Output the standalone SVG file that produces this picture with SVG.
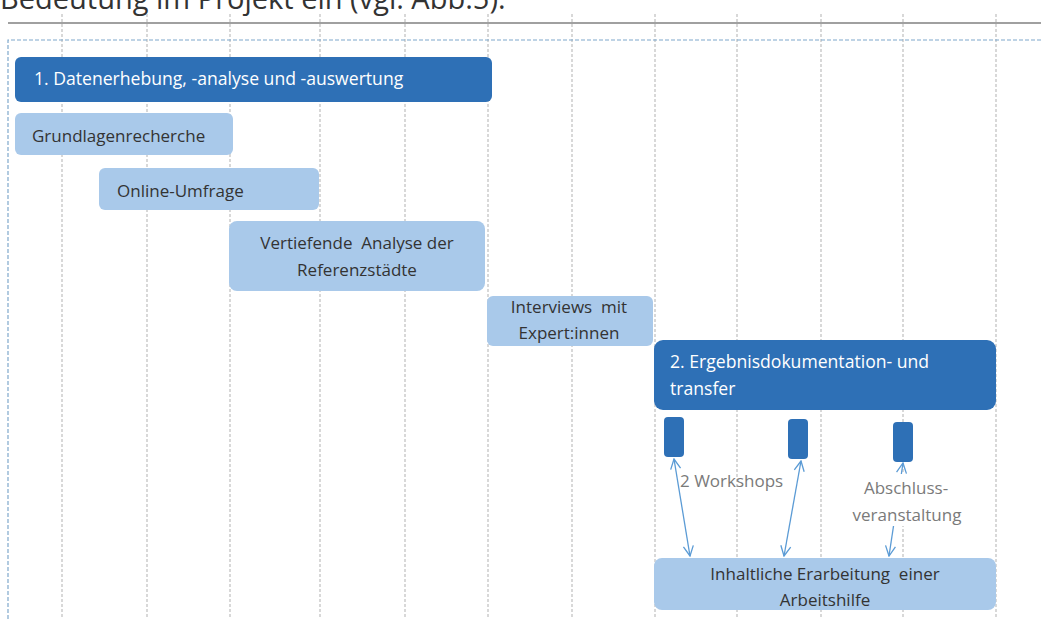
<svg xmlns="http://www.w3.org/2000/svg" width="1041" height="619" viewBox="0 0 1041 619">
<defs>
<style>
.grid{stroke:#c4c4c4;stroke-width:1.3;stroke-dasharray:3 2;fill:none}
.frame{stroke:#7fa8cc;stroke-width:1.2;stroke-dasharray:4 2;fill:none}
.dark{fill:#2e70b6}
.light{fill:#a9c9ea}
.tw{font-family:"Open Sans","Noto Sans",sans-serif;font-size:17.6px;fill:#ffffff}
.tb{font-family:"Open Sans","Noto Sans",sans-serif;font-size:17px;fill:#333333}
.tg{font-family:"Open Sans","Noto Sans",sans-serif;font-size:17px;fill:#7a7a7a}
.conn{stroke:#5b9bd5;stroke-width:1.3;fill:none}
</style>
<marker id="arr" viewBox="0 0 12 12" refX="11" refY="6" markerWidth="12" markerHeight="12" markerUnits="userSpaceOnUse" orient="auto-start-reverse">
<path d="M1,1 L11,6 L1,11" fill="none" stroke="#5b9bd5" stroke-width="1.3"/>
</marker>
</defs>
<rect width="1041" height="619" fill="#ffffff"/>
<text x="0" y="9" font-family="'Open Sans','Noto Sans',sans-serif" font-size="29" fill="#333333">Bedeutung im Projekt ein (vgl. Abb.5).</text>
<g id="grid">
<line x1="8" y1="23" x2="1041" y2="23" stroke="#a0a0a0" stroke-width="2"/>
<line class="grid" x1="62" y1="14" x2="62" y2="619"/>
<line class="grid" x1="147" y1="14" x2="147" y2="619"/>
<line class="grid" x1="230" y1="14" x2="230" y2="619"/>
<line class="grid" x1="320" y1="14" x2="320" y2="619"/>
<line class="grid" x1="405" y1="14" x2="405" y2="619"/>
<line class="grid" x1="488" y1="14" x2="488" y2="619"/>
<line class="grid" x1="572" y1="14" x2="572" y2="619"/>
<line class="grid" x1="655" y1="14" x2="655" y2="619"/>
<line class="grid" x1="737" y1="14" x2="737" y2="619"/>
<line class="grid" x1="821" y1="14" x2="821" y2="619"/>
<line class="grid" x1="903" y1="14" x2="903" y2="619"/>
<line class="grid" x1="996" y1="14" x2="996" y2="619"/>
<path class="frame" d="M8,619 L8,40 L1041,40"/>
</g>
<g id="phase1">
<rect class="dark" x="15" y="57" width="477" height="45" rx="6"/>
<text class="tw" x="34" y="85">1. Datenerhebung, -analyse und -auswertung</text>
</g>
<g id="grundlagen">
<rect class="light" x="15" y="113" width="218" height="42" rx="6"/>
<text class="tb" x="32" y="142">Grundlagenrecherche</text>
</g>
<g id="umfrage">
<rect class="light" x="99" y="168" width="220" height="42" rx="6"/>
<text class="tb" x="117" y="197">Online-Umfrage</text>
</g>
<g id="analyse">
<rect class="light" x="229" y="221" width="256" height="70" rx="8"/>
<text class="tb" x="357" y="249" text-anchor="middle" xml:space="preserve">Vertiefende  Analyse der</text>
<text class="tb" x="357" y="276" text-anchor="middle">Referenzstädte</text>
</g>
<g id="interviews">
<rect class="light" x="487" y="296" width="166" height="50" rx="6"/>
<text class="tb" x="569" y="313" text-anchor="middle" xml:space="preserve">Interviews  mit</text>
<text class="tb" x="569" y="339" text-anchor="middle">Expert:innen</text>
</g>
<g id="phase2">
<rect class="dark" x="654" y="340" width="342" height="70" rx="9"/>
<text class="tw" x="670" y="368">2. Ergebnisdokumentation- und</text>
<text class="tw" x="670" y="395">transfer</text>
</g>
<g id="ws1"><rect class="dark" x="664" y="417" width="20" height="40" rx="4"/></g>
<g id="ws2"><rect class="dark" x="788" y="419" width="20" height="40" rx="4"/></g>
<g id="abschluss"><rect class="dark" x="893" y="422" width="20" height="40" rx="4"/></g>
<g id="arbeitshilfe">
<rect class="light" x="654" y="558" width="342" height="52" rx="8"/>
<text class="tb" x="825" y="580" text-anchor="middle" xml:space="preserve">Inhaltliche Erarbeitung  einer</text>
<text class="tb" x="825" y="606" text-anchor="middle">Arbeitshilfe</text>
</g>
<g id="connectors">
<line class="conn" x1="674" y1="459" x2="690" y2="556" marker-start="url(#arr)" marker-end="url(#arr)"/>
<line class="conn" x1="801" y1="461" x2="784" y2="556" marker-start="url(#arr)" marker-end="url(#arr)"/>
<line class="conn" x1="903" y1="463" x2="889" y2="556" marker-start="url(#arr)" marker-end="url(#arr)"/>
</g>
<g id="labels">
<text class="tg" x="680" y="487">2 Workshops</text>
<rect x="855" y="474" width="102" height="52" fill="#ffffff"/>
<text class="tg" x="906" y="494" text-anchor="middle">Abschluss-</text>
<text class="tg" x="907" y="521" text-anchor="middle">veranstaltung</text>
</g>
</svg>
